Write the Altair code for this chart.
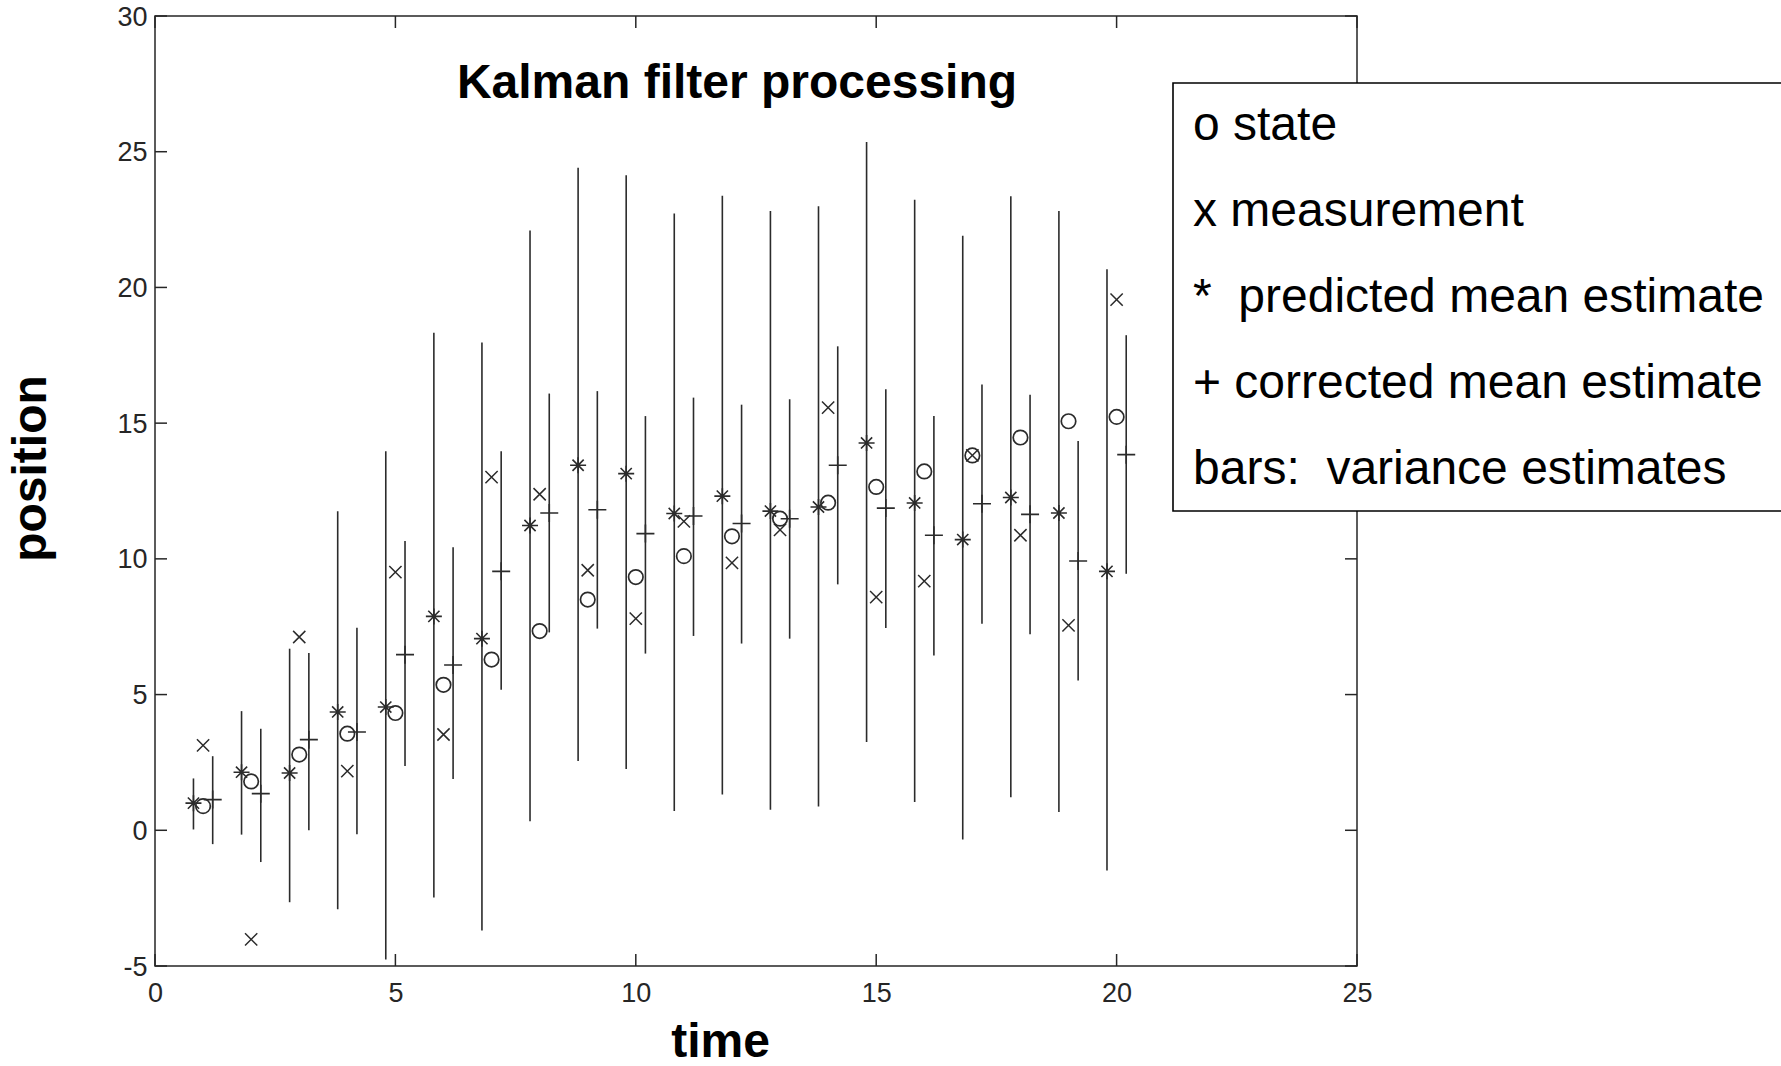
import altair as alt
import pandas as pd

# ---------------- data ----------------
time = list(range(1, 21))
state = [0.89, 1.80, 2.79, 3.56, 4.32, 5.36, 6.29, 7.34, 8.50, 9.33,
         10.10, 10.83, 11.48, 12.07, 12.65, 13.22, 13.81, 14.47, 15.07, 15.23]
measurement = [3.13, -4.02, 7.12, 2.18, 9.51, 3.53, 13.01, 12.38, 9.58, 7.80,
               11.38, 9.85, 11.07, 15.57, 8.59, 9.18, 13.81, 10.87, 7.55, 19.55]
predicted = [1.00, 2.14, 2.11, 4.36, 4.54, 7.88, 7.06, 11.23, 13.45, 13.14,
             11.67, 12.31, 11.76, 11.91, 14.27, 12.06, 10.71, 12.26, 11.69, 9.54]
predicted_low = [0.03, -0.16, -2.65, -2.91, -4.76, -2.48, -3.69, 0.33, 2.55, 2.26,
                 0.71, 1.32, 0.76, 0.88, 3.25, 1.04, -0.34, 1.22, 0.67, -1.48]
predicted_high = [1.91, 4.39, 6.69, 11.75, 13.96, 18.33, 17.97, 22.10, 24.41, 24.13,
                  22.72, 23.38, 22.82, 22.99, 25.36, 23.23, 21.90, 23.36, 22.82, 20.67]
corrected = [1.13, 1.35, 3.34, 3.62, 6.47, 6.09, 9.54, 11.69, 11.81, 10.93,
             11.58, 11.30, 11.48, 13.45, 11.87, 10.87, 12.03, 11.64, 9.92, 13.84]
corrected_low = [-0.51, -1.17, 0.00, -0.15, 2.37, 1.89, 5.18, 7.29, 7.43, 6.51,
                 7.16, 6.88, 7.06, 9.06, 7.45, 6.44, 7.61, 7.22, 5.52, 9.45]
corrected_high = [2.73, 3.74, 6.53, 7.46, 10.66, 10.43, 13.96, 16.09, 16.18, 15.26,
                  15.94, 15.68, 15.88, 17.83, 16.25, 15.26, 16.42, 16.05, 14.34, 18.24]

x_ticks = [0, 5, 10, 15, 20, 25]
y_ticks = [-5, 0, 5, 10, 15, 20, 25, 30]

title_text = "Kalman filter processing"
legend_lines = [
    "o state",
    "x measurement",
    "*\u00a0 predicted mean estimate",
    "+ corrected mean estimate",
    "bars:\u00a0 variance estimates",
]

# ---------------- layout / style ----------------
W, H = 1202, 950
PAD = {"left": 155, "top": 16, "right": 1781 - 155 - W, "bottom": 1066 - 16 - H}
FONT = "Liberation Sans"
AX = "#262626"
MK = "#2b2b2b"
OFF = 0.2
TICK = 12

df = pd.DataFrame({
    "t": time, "state": state, "meas": measurement,
    "pred": predicted, "plo": predicted_low, "phi": predicted_high,
    "corr": corrected, "clo": corrected_low, "chi": corrected_high,
})
df["tp"] = df["t"] - OFF
df["tc"] = df["t"] + OFF

xs = alt.Scale(domain=[0, 25], nice=False, zero=False)
ys = alt.Scale(domain=[-5, 30], nice=False, zero=False)

x_axis = alt.Axis(values=x_ticks, ticks=False, domain=False, grid=False,
                  labelFont=FONT, labelFontSize=27, labelColor=AX, labelPadding=14,
                  labelFlush=False, labelExpr="'' + datum.value",
                  title="time", titleFont=FONT, titleFontSize=48, titleFontWeight="bold",
                  titleColor="black", titleX=565, titleY=90, titleAlign="center",
                  titleBaseline="alphabetic")
y_axis = alt.Axis(values=y_ticks, ticks=False, domain=False, grid=False,
                  labelFont=FONT, labelFontSize=27, labelColor=AX, labelPadding=8,
                  labelFlush=False, labelOffset=1, labelExpr="'' + datum.value",
                  title="position", titleFont=FONT, titleFontSize=48, titleFontWeight="bold",
                  titleColor="black", titleAngle=270, titleX=-110, titleY=452,
                  titleAlign="center", titleBaseline="alphabetic")


def X(f):
    return alt.X(f, type="quantitative", scale=xs, axis=x_axis, title="time")


def Y(f):
    return alt.Y(f, type="quantitative", scale=ys, axis=y_axis, title="position")


base = alt.Chart(df)

pred_bars = base.mark_rule(color=MK, strokeWidth=1.6).encode(x=X("tp"), y=Y("plo"), y2="phi")
corr_bars = base.mark_rule(color=MK, strokeWidth=1.6).encode(x=X("tc"), y=Y("clo"), y2="chi")

ASTER = "M-1,0L1,0M0,-1L0,1M-0.7,-0.7L0.7,0.7M-0.7,0.7L0.7,-0.7"
XMARK = "M-1,-1L1,1M-1,1L1,-1"
PLUS = "M-1,0L1,0M0,-1L0,1"

pred_pts = base.mark_point(shape=ASTER, filled=False, size=256, color=MK, strokeWidth=1.6,
                           opacity=1).encode(x=X("tp"), y=Y("pred"))
corr_pts = base.mark_point(shape=PLUS, filled=False, size=324, color=MK, strokeWidth=1.6,
                           opacity=1).encode(x=X("tc"), y=Y("corr"))
state_pts = base.mark_point(shape="circle", filled=False, size=210, color=MK, strokeWidth=1.7,
                            opacity=1).encode(x=X("t"), y=Y("state"))
meas_pts = base.mark_point(shape=XMARK, filled=False, size=150, color=MK, strokeWidth=1.5,
                           opacity=1).encode(x=X("t"), y=Y("meas"))

# inward ticks on all four sides (MATLAB style box)
xt = pd.DataFrame({"v": x_ticks})
yt = pd.DataFrame({"v": y_ticks})
tick_style = dict(color=AX, strokeWidth=1.5)
xtick_bottom = alt.Chart(xt).mark_rule(**tick_style).encode(
    x=X("v"), y=alt.value(H - TICK), y2=alt.value(H))
xtick_top = alt.Chart(xt).mark_rule(**tick_style).encode(
    x=X("v"), y=alt.value(0), y2=alt.value(TICK))
ytick_left = alt.Chart(yt).mark_rule(**tick_style).encode(
    y=Y("v"), x=alt.value(0), x2=alt.value(TICK))
ytick_right = alt.Chart(yt).mark_rule(**tick_style).encode(
    y=Y("v"), x=alt.value(W - TICK), x2=alt.value(W))

title = alt.Chart(pd.DataFrame({"label": [title_text]})).mark_text(
    font=FONT, fontSize=48, fontWeight="bold", color="black",
    align="center", baseline="alphabetic").encode(
    x=alt.value(582), y=alt.value(82), text="label:N")

legend_box = alt.Chart(pd.DataFrame({"k": [0]})).mark_rect(
    fill="white", stroke="black", strokeWidth=1.6).encode(
    x=alt.value(1018), x2=alt.value(1650), y=alt.value(67), y2=alt.value(495))

legend_texts = []
for i, line in enumerate(legend_lines):
    legend_texts.append(
        alt.Chart(pd.DataFrame({"label": [line]})).mark_text(
            font=FONT, fontSize=48, color="black", align="left", baseline="alphabetic"
        ).encode(x=alt.value(1038), y=alt.value(124 + i * 86), text="label:N")
    )

chart = alt.layer(
    xtick_bottom, xtick_top, ytick_left, ytick_right,
    pred_bars, corr_bars, pred_pts, corr_pts, state_pts, meas_pts,
    title, legend_box, *legend_texts,
).properties(
    width=W, height=H, padding=PAD,
    autosize=alt.AutoSizeParams(type="none"),
    background="white",
).configure_view(stroke=AX, strokeWidth=1.5)

chart.save("out.html", embed_options={"renderer": "svg", "actions": False})
